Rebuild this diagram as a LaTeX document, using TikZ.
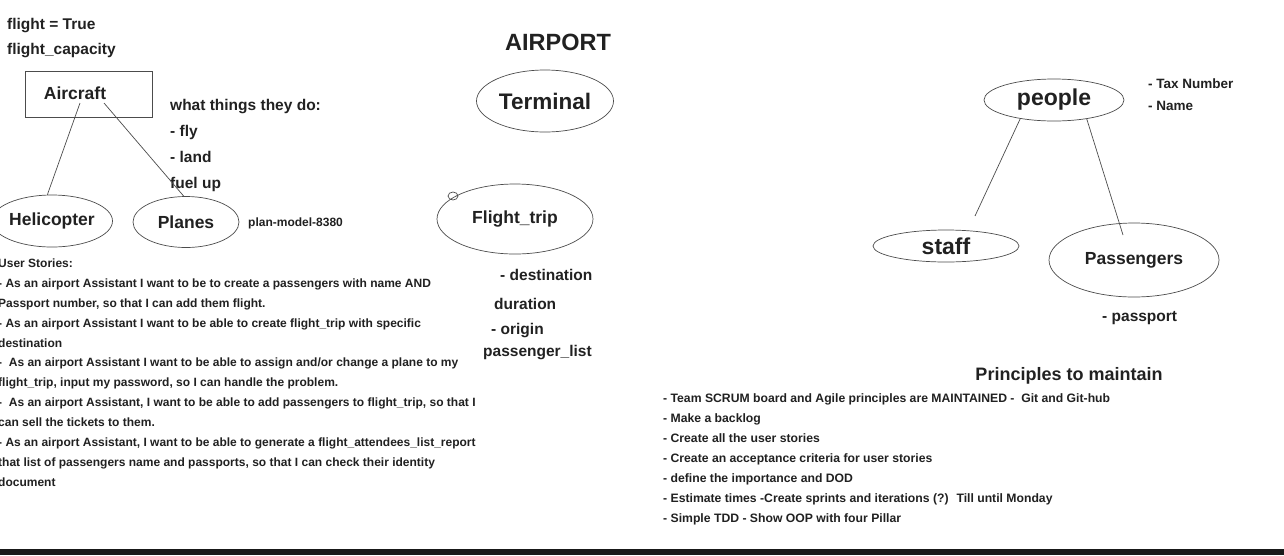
\documentclass[tikz,border=0pt]{standalone}
\usepackage{fontspec}
\setmainfont{Liberation Sans}
\usepackage{xcolor,tikz}
\definecolor{inkgray}{rgb}{0.13,0.13,0.13}
\definecolor{linegray}{rgb}{0.3,0.3,0.3}
\definecolor{barblack}{rgb}{0.1,0.1,0.1}
\usetikzlibrary{shapes.geometric,positioning}
\tikzset{>=stealth}
\newcommand{\fsz}[2]{\fontsize{#1}{#2}\selectfont\bfseries}
\tikzset{
  txt/.style={inner sep=0pt,anchor=west,text=inkgray},
  oval/.style={draw=linegray,line width=0.7pt,ellipse,inner sep=0pt,text=inkgray},
  link/.style={draw=linegray,line width=0.7pt}
}

\begin{document}
\begin{tikzpicture}[x=1pt,y=-1pt]
\useasboundingbox (0,0) rectangle (1284,555);
\fill[white] (0,0) rectangle (1284,555);
\fill[barblack] (0,549) rectangle (1284,555);
% aircraft
\node[txt,font=\fsz{15.5}{18}] (flight) at (7,26) {flight = True};
\node[txt,font=\fsz{15.5}{18}] (capacity) at (7,51) {flight\_capacity};
\node[draw=linegray,line width=0.7pt,minimum width=127,minimum height=46,inner sep=0pt] (aircraft) at (88.5,94) {};
\node[txt,anchor=center,font=\fsz{17.5}{20}] (aircraftname) at (75,93) {Aircraft};
\node[oval,minimum width=110,minimum height=52,font=\fsz{17.5}{20}] (heli) at (52,221) {Helicopter};
\node[oval,minimum width=106,minimum height=51,font=\fsz{17.5}{20}] (planes) at (186,222) {Planes};
\node[txt,font=\fsz{12}{14}] (model) at (248,223) {plan-model-8380};
\node[txt,anchor=north west,align=left,font=\fsz{15.5}{26}] (todo) at (170,99.5) {what things they do:\\- fly\\- land\\fuel up};
\coordinate (airA) at (80,103);
\coordinate (airB) at (104,103);
\draw[link] (airA) -- (heli.100);
\draw[link] (airB) -- (planes.95);
% user stories
\node[txt,anchor=north west,align=left,font=\fsz{12}{19.9}] (stories) at (-2,258.5) {User Stories:\\
- As an airport Assistant I want to be to create a passengers with name AND\\
Passport number, so that I can add them flight.\\
- As an airport Assistant I want to be able to create flight\_trip with specific\\
destination\\
-~ As an airport Assistant I want to be able to assign and/or change a plane to my\\
flight\_trip, input my password, so I can handle the problem.\\
-~ As an airport Assistant, I want to be able to add passengers to flight\_trip, so that I\\
can sell the tickets to them.\\
- As an airport Assistant, I want to be able to generate a flight\_attendees\_list\_report\\
that list of passengers name and passports, so that I can check their identity\\
document};
% airport
\node[txt,anchor=center,font=\fsz{23.5}{28}] (airport) at (558,42) {AIRPORT};
\node[oval,minimum width=137,minimum height=62,font=\fsz{22.5}{26}] (terminal) at (545,101) {Terminal};
\node[oval,minimum width=156,minimum height=70,font=\fsz{17.5}{20}] (trip) at (515,219) {Flight\_trip};
\draw[link] (453,196) ellipse (5 and 4);
\node[txt,font=\fsz{15.5}{18}] (dest) at (500,275) {- destination};
\node[txt,font=\fsz{15.5}{18}] (dur) at (494,304) {duration};
\node[txt,font=\fsz{15.5}{18}] (orig) at (491,331) {- origin};
\node[txt,font=\fsz{15.5}{18}] (plist) at (483,353) {passenger\_list};
% people
\node[oval,minimum width=140,minimum height=42,font=\fsz{23}{26}] (people) at (1054,100) {people};
\node[txt,font=\fsz{13.5}{16}] (tax) at (1148,84) {- Tax Number};
\node[txt,font=\fsz{13.5}{16}] (name) at (1148,106) {- Name};
\node[oval,minimum width=146,minimum height=32,font=\fsz{23}{26}] (staff) at (946,246) {staff};
\node[oval,minimum width=170,minimum height=74,font=\fsz{17.5}{20}] (pax) at (1134,260) {Passengers};
\node[txt,font=\fsz{15.5}{18}] (passport) at (1102,318) {- passport};
\coordinate (staffend) at (975,216);
\coordinate (paxend) at (1123,235);
\draw[link] (people.209) -- (staffend);
\draw[link] (people.330) -- (paxend);
% principles
\node[txt,anchor=center,font=\fsz{18}{20}] (principles) at (1069,376) {Principles to maintain};
\node[txt,anchor=north west,align=left,font=\fsz{12.2}{20}] (rules) at (663,393.5) {- Team SCRUM board and Agile principles are MAINTAINED -~ Git and Git-hub\\
- Make a backlog\\
- Create all the user stories\\
- Create an acceptance criteria for user stories\\
- define the importance and DOD\\
- Estimate times -Create sprints and iterations (?)~ Till until Monday\\
- Simple TDD - Show OOP with four Pillar};
\end{tikzpicture}
\end{document}
